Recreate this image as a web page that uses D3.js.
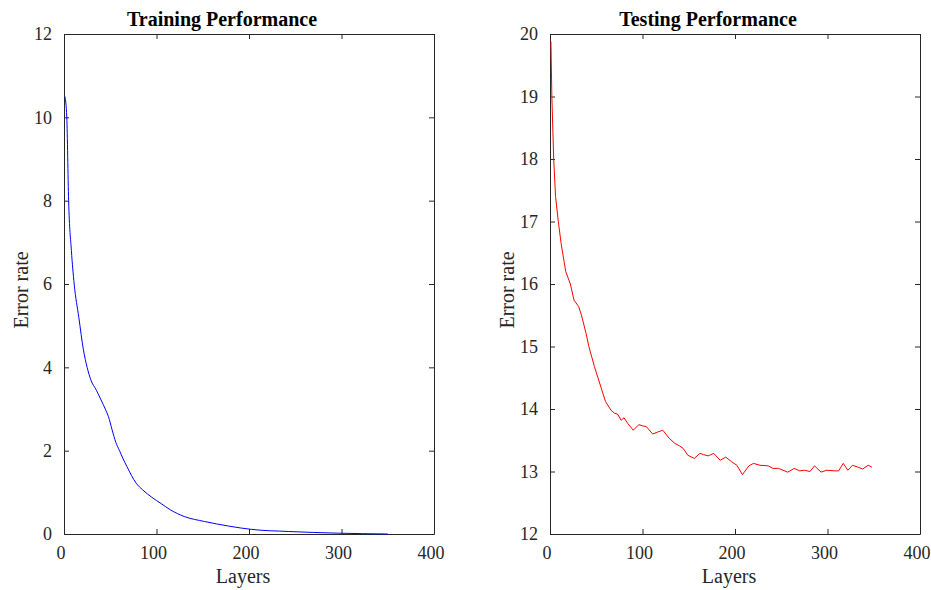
<!DOCTYPE html>
<html>
<head>
<meta charset="utf-8">
<script src="https://cdn.jsdelivr.net/npm/d3@7"></script>
<style>
  html, body { margin: 0; padding: 0; background: #fff; }
  svg { display: block; font-family: "Liberation Serif", "Times New Roman", serif; }
</style>
</head>
<body>
<svg id="chart" width="931" height="590"></svg>
<script>
// Training error rate versus number of layers
const trainLayers = [1, 3, 5, 8, 11, 16, 21, 25, 29, 35, 40, 45, 48, 52, 56, 60, 64, 68, 78, 85, 95, 105, 115, 130, 152, 178, 203, 243, 296, 350];
const trainError  = [10.5, 10.0, 8.0, 6.8, 6.0, 5.2, 4.42, 4.0, 3.7, 3.45, 3.22, 2.98, 2.82, 2.5, 2.2, 2.0, 1.8, 1.62, 1.22, 1.06, 0.88, 0.73, 0.58, 0.42, 0.30, 0.19, 0.11, 0.06, 0.02, 0.0];

// Testing error rate versus number of layers
const testLayers = [1, 2, 4, 6, 9, 12, 17, 22, 26, 31, 34, 39, 42, 48, 54, 60, 66, 70, 73, 77, 80, 84, 90, 96, 100, 104, 111, 116, 122, 129, 135, 140, 144, 149, 156, 162, 166, 171, 177, 184, 190, 196, 202, 208, 215, 220, 227, 236, 241, 247, 257, 264, 270, 275, 281, 286, 293, 299, 308, 312, 317, 322, 327, 333, 338, 344, 348];
const testError  = [19.88, 19.0, 18.0, 17.4, 17.0, 16.65, 16.2, 16.0, 15.74, 15.64, 15.5, 15.21, 15.0, 14.68, 14.4, 14.12, 13.98, 13.93, 13.92, 13.82, 13.86, 13.77, 13.66, 13.75, 13.73, 13.72, 13.60, 13.63, 13.66, 13.53, 13.45, 13.41, 13.37, 13.26, 13.21, 13.29, 13.27, 13.25, 13.29, 13.18, 13.23, 13.16, 13.10, 12.95, 13.09, 13.13, 13.10, 13.09, 13.05, 13.05, 12.99, 13.05, 13.01, 13.02, 13.0, 13.09, 12.99, 13.02, 13.01, 13.01, 13.13, 13.02, 13.10, 13.07, 13.04, 13.10, 13.07];

// Axis ticks
const xTicks = [0, 100, 200, 300, 400];
const trainYTicks = [0, 2, 4, 6, 8, 10, 12];
const testYTicks = [12, 13, 14, 15, 16, 17, 18, 19, 20];

const panels = [
  { title: "Training Performance", xs: trainLayers, ys: trainError, yDomain: [0, 12], yTicks: trainYTicks,
    color: "#0000ff", left: 64, right: 434, curve: d3.curveMonotoneX },
  { title: "Testing Performance", xs: testLayers, ys: testError, yDomain: [12, 20], yTicks: testYTicks,
    color: "#ff0000", left: 550, right: 920, curve: d3.curveLinear }
];

const plotTop = 34, plotBottom = 534;
const axisColor = "#262626";
const svg = d3.select("#chart");

panels.forEach(p => {
  const x = d3.scaleLinear().domain([0, 400]).range([p.left, p.right]);
  const y = d3.scaleLinear().domain(p.yDomain).range([plotBottom, plotTop]);
  const g = svg.append("g");

  // bottom axis with labels, ticks pointing inward
  g.append("g").attr("transform", `translate(0,${plotBottom})`)
    .call(d3.axisBottom(x).tickValues(xTicks).tickSize(-5).tickPadding(12).tickSizeOuter(0))
    .call(a => a.selectAll("text").attr("font-size", 18).attr("dx", -3.5));
  // top axis, ticks only
  g.append("g").attr("transform", `translate(0,${plotTop})`)
    .call(d3.axisTop(x).tickValues(xTicks).tickSize(-5).tickFormat("").tickSizeOuter(0));
  // left axis with labels
  g.append("g").attr("transform", `translate(${p.left},0)`)
    .call(d3.axisLeft(y).tickValues(p.yTicks).tickSize(-5).tickPadding(12).tickSizeOuter(0))
    .call(a => a.selectAll("text").attr("font-size", 18));
  // right axis, ticks only
  g.append("g").attr("transform", `translate(${p.right},0)`)
    .call(d3.axisRight(y).tickValues(p.yTicks).tickSize(-5).tickFormat("").tickSizeOuter(0));

  g.selectAll(".domain, .tick line").attr("stroke", axisColor).attr("stroke-width", 1);
  g.selectAll(".tick text").attr("fill", axisColor).attr("font-family", "Liberation Serif, serif");

  // data line
  const line = d3.line().x((d, i) => x(p.xs[i])).y(d => y(d)).curve(p.curve);
  g.append("path")
    .datum(p.ys)
    .attr("d", line)
    .attr("fill", "none")
    .attr("stroke", p.color)
    .attr("stroke-width", 1);

  const cx = (p.left + p.right) / 2;
  // title
  g.append("text")
    .attr("x", cx - 27).attr("y", 26)
    .attr("text-anchor", "middle")
    .attr("font-size", 20).attr("font-weight", "bold")
    .attr("fill", "#000")
    .text(p.title);
  // x label
  g.append("text")
    .attr("x", cx - 6).attr("y", 583)
    .attr("text-anchor", "middle")
    .attr("font-size", 20)
    .attr("fill", axisColor)
    .text("Layers");
  // y label
  g.append("text")
    .attr("transform", `translate(${p.left - 36},${(plotTop + plotBottom) / 2 + 6}) rotate(-90)`)
    .attr("text-anchor", "middle")
    .attr("font-size", 20)
    .attr("fill", axisColor)
    .text("Error rate");
});
</script>
</body>
</html>
